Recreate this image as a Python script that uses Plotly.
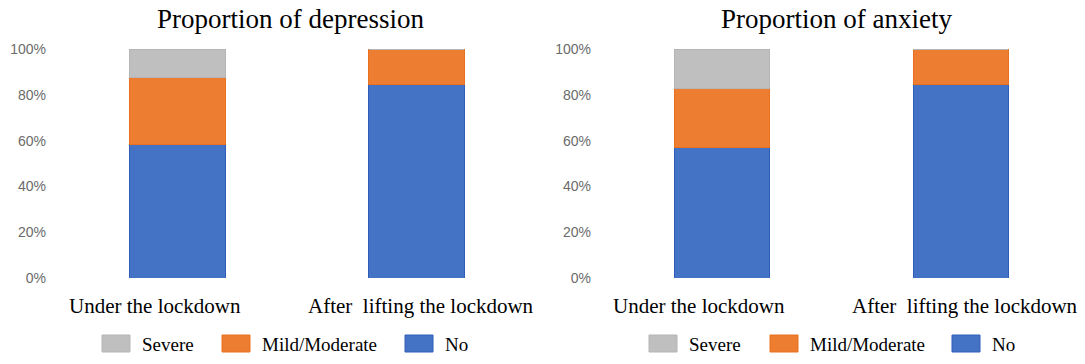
import plotly.graph_objects as go

categories = ["Under the lockdown", "After  lifting the lockdown"]
series_names = ["No", "Mild/Moderate", "Severe"]
depression_no = [0.584, 0.847]
depression_mild = [0.291, 0.153]
depression_severe = [0.125, 0.0]
anxiety_no = [0.569, 0.847]
anxiety_mild = [0.259, 0.153]
anxiety_severe = [0.172, 0.0]
titles = ["Proportion of depression", "Proportion of anxiety"]
tick_vals = [0, 0.2, 0.4, 0.6, 0.8, 1.0]
tick_text = ["0%", "20%", "40%", "60%", "80%", "100%"]

fill_colors = {"No": "#4472C4", "Mild/Moderate": "#ED7D31", "Severe": "#BFBFBF"}
line_colors = {"No": "#2F5EB8", "Mild/Moderate": "#E9701F", "Severe": "#B5B5B5"}

panels = [
    {"No": depression_no, "Mild/Moderate": depression_mild, "Severe": depression_severe},
    {"No": anxiety_no, "Mild/Moderate": anxiety_mild, "Severe": anxiety_severe},
]

SERIF = "Times New Roman, Liberation Serif, serif"

fig = go.Figure()
for i, panel in enumerate(panels):
    xa = "x" if i == 0 else "x2"
    ya = "y" if i == 0 else "y2"
    for name in series_names:
        fig.add_trace(go.Bar(
            x=categories, y=panel[name], name=name,
            xaxis=xa, yaxis=ya, showlegend=False,
            marker=dict(color=fill_colors[name],
                        line=dict(color=line_colors[name], width=1)),
            width=0.4,
        ))

W, H = 1085, 364
ml, mr, mt, mb = 58, 5, 49, 86
pw = W - ml - mr
ph = H - mt - mb
d1 = (536 - ml) / pw
d2 = (603 - ml) / pw

def px_x(p):
    return (p - ml) / pw

def px_y(p):
    return (H - mb - p) / ph

axis_common = dict(
    showgrid=False, zeroline=False, showline=False, automargin=False,
    showticklabels=False, fixedrange=True,
)
yaxis_common = dict(
    range=[0, 1], tickvals=tick_vals, ticktext=tick_text, automargin=False,
    showgrid=False, zeroline=False, showline=False,
    tickfont=dict(family="Liberation Sans, Arial, sans-serif", size=14, color="#6b6b6b"),
    ticklabelstandoff=11,
)

fig.update_layout(
    width=W, height=H,
    margin=dict(l=ml, r=mr, t=mt, b=mb, autoexpand=False),
    paper_bgcolor="white", plot_bgcolor="white",
    barmode="stack", showlegend=False,
    xaxis=dict(domain=[0, d1], **axis_common),
    xaxis2=dict(domain=[d2, 1], **axis_common),
    yaxis=dict(anchor="x", **yaxis_common),
    yaxis2=dict(anchor="x2", **yaxis_common),
)

# category labels (placed on the category axis, slightly offset as in the source)
label_shift = [-23, 4]
for xref in ["x", "x2"]:
    for cat, sh in zip(categories, label_shift):
        fig.add_annotation(
            text=cat, x=cat, xref=xref, y=px_y(306), yref="paper",
            xanchor="center", yanchor="middle", xshift=sh, showarrow=False,
            font=dict(family=SERIF, size=21, color="#000000"),
        )

# subplot titles
title_x = [px_x(290), px_x(836)]
for tx, t in zip(title_x, titles):
    fig.add_annotation(
        text=t, x=tx, y=px_y(19), xref="paper", yref="paper",
        xanchor="center", yanchor="middle", showarrow=False,
        font=dict(family=SERIF, size=27, color="#000000"),
    )

# legends (one under each panel), order: Severe, Mild/Moderate, No
legend_order = ["Severe", "Mild/Moderate", "No"]
legend_key_left = [[102, 222, 405], [649, 770, 952]]
for keys in legend_key_left:
    for name, kx in zip(legend_order, keys):
        fig.add_shape(
            type="rect", xref="paper", yref="paper",
            x0=px_x(kx), x1=px_x(kx + 28), y0=px_y(352), y1=px_y(335),
            fillcolor=fill_colors[name], line=dict(color=line_colors[name], width=1),
        )
        fig.add_annotation(
            text=name, x=px_x(kx + 38), y=px_y(344), xref="paper", yref="paper",
            xanchor="left", yanchor="middle", showarrow=False,
            font=dict(family=SERIF, size=19, color="#000000"),
        )

fig.write_html(
    "out.html",
    config={"displayModeBar": False},
    post_script="document.body.style.margin='0px';document.body.style.overflow='hidden';",
)
